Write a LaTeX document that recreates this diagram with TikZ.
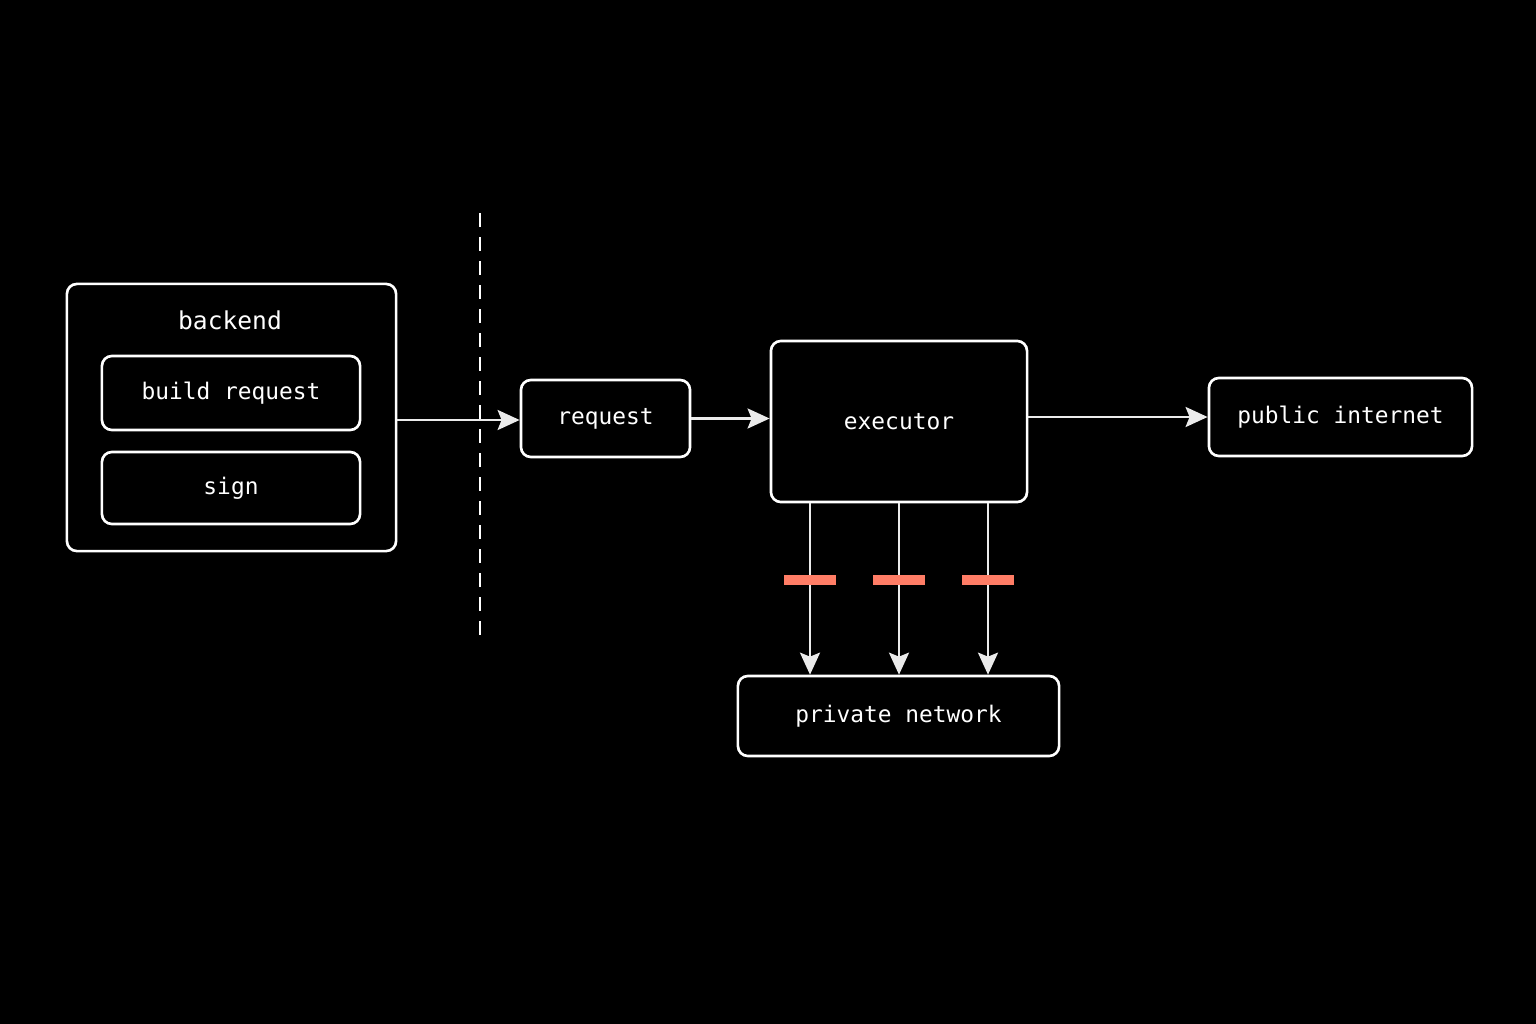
\documentclass[tikz,border=0pt]{standalone}
\usepackage{fontspec}
\setmonofont{DejaVu Sans Mono}
\usetikzlibrary{arrows.meta, positioning}

\begin{document}
\begin{tikzpicture}[
    x=0.01cm, y=-0.01cm,
    box/.style={rectangle, draw=white, line width=0.75pt, rounded corners=0.1cm, fill=black, text=white, align=center, font=\ttfamily\fontsize{6.5}{8}\selectfont},
    arrow/.style={-{Stealth[length=2.2mm, width=2mm, inset=0.4mm]}, draw=white!92!black, line width=0.75pt},
    block/.style={fill=red!70!orange!60!white, draw=none, minimum width=0.52cm, minimum height=0.1cm, inner sep=0pt}
]
\fill[black] (0,0) rectangle (1536,1024);

\node[box, minimum width=3.29cm, minimum height=2.67cm] (backend) at (231.5,417.5) {};
\node[text=white, font=\ttfamily\fontsize{7}{8}\selectfont] (backendlabel) at (230,320) {backend};
\node[box, minimum width=2.58cm, minimum height=0.74cm] (build) at (231,393) {build request};
\node[box, minimum width=2.58cm, minimum height=0.72cm] (sign) at (231,488) {sign};

\node[box, minimum width=1.69cm, minimum height=0.77cm] (request) at (605.5,418.5) {request};
\node[box, minimum width=2.56cm, minimum height=1.61cm] (executor) at (899,421.5) {executor};
\node[box, minimum width=2.63cm, minimum height=0.78cm] (internet) at (1340.5,417) {public internet};
\node[box, minimum width=3.21cm, minimum height=0.80cm] (private) at (898.5,716) {private network};

% boundary
\coordinate (btop) at (480,213);
\coordinate (bbot) at (480,637);
\draw[white, line width=0.75pt, dash pattern=on 0.14cm off 0.1cm] (btop) -- (bbot);

% Arrows
\draw[arrow] (backend.east |- 0,420) -- (request.west |- 0,420);
\draw[arrow] (request) -- (executor.west |- request);
\draw[arrow] (executor.east |- internet) -- (internet);
\foreach \x in {810,899,988} {
    \draw[arrow] (executor.south -| \x,0) -- (private.north -| \x,0);
    \node[block] at (\x,580) {};
}

\end{tikzpicture}
\end{document}
